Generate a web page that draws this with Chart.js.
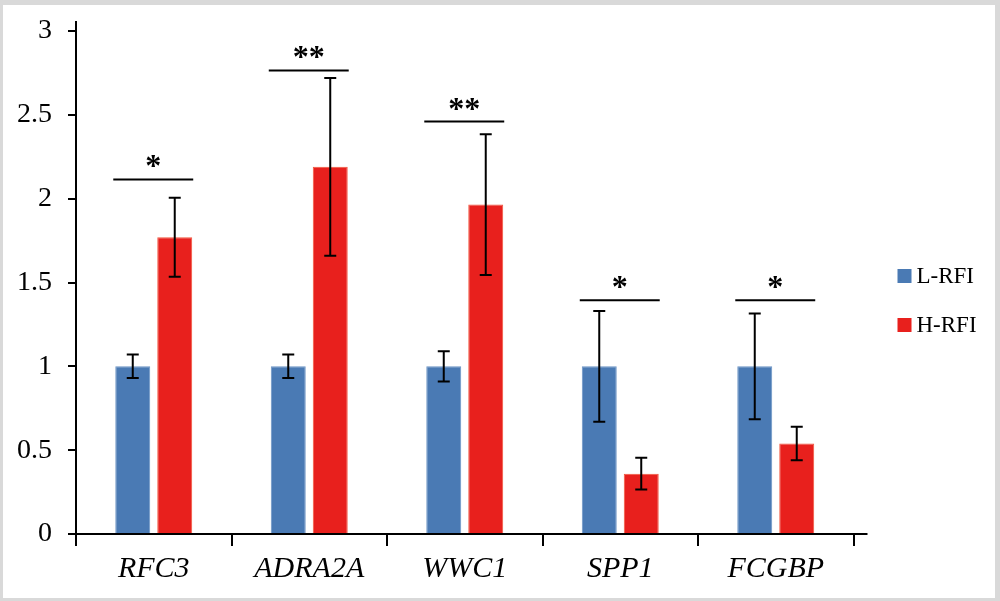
<!DOCTYPE html>
<html>
<head>
<meta charset="utf-8">
<script src="https://cdn.jsdelivr.net/npm/chart.js@4.4.1/dist/chart.umd.min.js"></script>
<style>
  html, body { margin: 0; padding: 0; background: #d9d9d9; }
  #frame { position: absolute; left: 3px; top: 5px; width: 992px; height: 593px; background: #fff; }
  #myChart { position: absolute; left: 0; top: 0; }
</style>
</head>
<body>
<div id="frame"></div>
<canvas id="myChart" width="1000" height="601"></canvas>
<script>
// values
const genes = ['RFC3', 'ADRA2A', 'WWC1', 'SPP1', 'FCGBP'];
const lRfi = [1, 1, 1, 1, 1];
const lRfiErr = [0.07, 0.07, 0.09, 0.33, 0.315];
const hRfi = [1.77, 2.19, 1.965, 0.36, 0.54];
const hRfiErr = [0.235, 0.53, 0.42, 0.095, 0.10];
const sigLevel = [2.115, 2.765, 2.46, 1.395, 1.395];
const sigMarks = ['*', '**', '**', '*', '*'];
const yTicks = [0, 0.5, 1, 1.5, 2, 2.5, 3];

const serif = '"Liberation Serif", "Times New Roman", serif';

// error bars + significance lines
const extras = {
  id: 'extras',
  afterDatasetsDraw(chart) {
    const ctx = chart.ctx;
    const y = chart.scales.y;
    const errs = [lRfiErr, hRfiErr];
    const vals = [lRfi, hRfi];
    ctx.save();
    ctx.strokeStyle = '#000';
    ctx.lineWidth = 2;
    for (let d = 0; d < 2; d++) {
      const meta = chart.getDatasetMeta(d);
      meta.data.forEach((bar, i) => {
        const top = y.getPixelForValue(vals[d][i] + errs[d][i]);
        const bot = y.getPixelForValue(vals[d][i] - errs[d][i]);
        ctx.beginPath();
        ctx.moveTo(bar.x, top); ctx.lineTo(bar.x, bot);
        ctx.moveTo(bar.x - 6, top); ctx.lineTo(bar.x + 6, top);
        ctx.moveTo(bar.x - 6, bot); ctx.lineTo(bar.x + 6, bot);
        ctx.stroke();
      });
    }
    const m0 = chart.getDatasetMeta(0).data;
    const m1 = chart.getDatasetMeta(1).data;
    ctx.fillStyle = '#000';
    ctx.font = 'bold 32px ' + serif;
    ctx.textAlign = 'center';
    ctx.textBaseline = 'alphabetic';
    genes.forEach((g, i) => {
      const x0 = m0[i].x - m0[i].width / 2 - 2;
      const x1 = m1[i].x + m1[i].width / 2 + 1;
      const sy = y.getPixelForValue(sigLevel[i]);
      ctx.beginPath();
      ctx.moveTo(x0, sy); ctx.lineTo(x1, sy);
      ctx.stroke();
      ctx.fillText(sigMarks[i], (x0 + x1) / 2, sy - 3);
    });
    // x axis runs a little past the last category
    const a = chart.chartArea;
    ctx.beginPath();
    ctx.moveTo(a.right, a.bottom); ctx.lineTo(a.right + 14, a.bottom);
    ctx.stroke();
    // legend
    ctx.font = '23px ' + serif;
    ctx.textAlign = 'left';
    ctx.textBaseline = 'middle';
    chart.data.datasets.forEach((ds, k) => {
      const ly = 276 + k * 49;
      const lx = a.right + 44;
      ctx.fillStyle = ds.backgroundColor;
      ctx.fillRect(lx, ly - 7, 14, 14);
      ctx.fillStyle = '#000';
      ctx.fillText(ds.label, lx + 19, ly + 1);
    });
    ctx.restore();
  }
};

const ctx = document.getElementById('myChart').getContext('2d');
const myChart = new Chart(ctx, {
  type: 'bar',
  data: {
    labels: genes,
    datasets: [{
      label: 'L-RFI',
      data: lRfi,
      backgroundColor: '#4a7ab4',
      borderColor: '#6a93c4',
      borderWidth: 1
    }, {
      label: 'H-RFI',
      data: hRfi,
      backgroundColor: '#e8201d',
      borderColor: '#f2553c',
      borderWidth: 1
    }]
  },
  options: {
    responsive: false,
    animation: false,
    devicePixelRatio: 1,
    categoryPercentage: 0.54,
    barPercentage: 0.833,
    layout: { padding: { left: 0, top: 22, right: 146.5, bottom: 0 } },
    plugins: { legend: { display: false }, tooltip: { enabled: false } },
    scales: {
      x: {
        offset: true,
        afterFit(s) { s.height = 67; s.paddingLeft = 0; s.paddingRight = 0; },
        grid: { offset: true, drawOnChartArea: false, tickLength: 12, color: '#000', lineWidth: 2 },
        border: { color: '#000', width: 2 },
        ticks: { color: '#000', padding: 5, font: { family: serif, size: 30, style: 'italic' } }
      },
      y: {
        min: 0,
        max: 3.054,
        afterFit(s) { s.width = 76; s.paddingTop = 0; s.paddingBottom = 0; },
        afterBuildTicks(s) { s.ticks = yTicks.map(v => ({ value: v })); },
        grid: { drawOnChartArea: false, tickLength: 8, color: '#000', lineWidth: 2 },
        border: { color: '#000', width: 2 },
        ticks: {
          color: '#000', padding: 16, font: { family: serif, size: 28 },
          callback: v => String(v)
        }
      }
    }
  },
  plugins: [extras]
});
</script>
</body>
</html>
